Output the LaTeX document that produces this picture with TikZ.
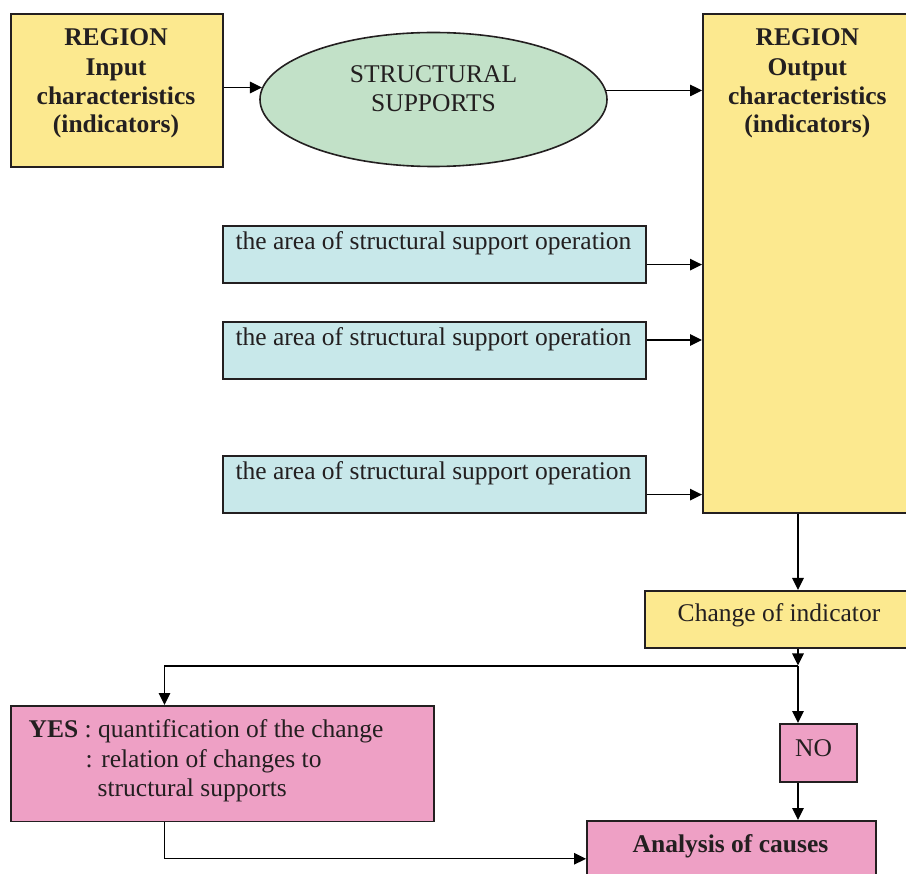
\documentclass[tikz,border=0pt]{standalone}
\usepackage{fontspec}
\setmainfont{Liberation Serif}
\usetikzlibrary{arrows.meta,shapes.geometric}
\definecolor{boxyellow}{HTML}{FCE98F}
\definecolor{boxgreen}{HTML}{C2E1C8}
\definecolor{boxcyan}{HTML}{C8E8EA}
\definecolor{boxpink}{HTML}{EEA0C5}
\definecolor{inkcol}{HTML}{231F20}
\begin{document}
\begin{tikzpicture}[x=1pt,y=-1pt,
  box/.style={draw=inkcol, line width=1.6pt, inner sep=0pt, anchor=north west},
  txt/.style={inner sep=0pt, anchor=base, text=inkcol, font=\fontsize{25.5}{29}\selectfont},
  txtb/.style={txt, font=\fontsize{25.5}{29}\selectfont\bfseries},
  txtl/.style={txt, anchor=base west},
  arr/.style={-{Triangle[length=12pt,width=11.5pt]}, line width=1.3pt, draw=black}]
\useasboundingbox (0,0) rectangle (906,874);
\clip (0,0) rectangle (906,874);

% boxes
\node[box, fill=boxyellow, minimum width=212pt, minimum height=153pt] (inbox) at (10,13) {};
\node[box, fill=boxyellow, minimum width=212pt, minimum height=499pt] (outbox) at (702,13) {};
\node[draw=inkcol, line width=1.6pt, fill=boxgreen, ellipse, inner sep=0pt,
      minimum width=347pt, minimum height=134pt] (ell) at (433.5,99.5) {};
\node[box, fill=boxcyan, minimum width=423pt, minimum height=57.5pt] (blue1) at (222,225) {};
\node[box, fill=boxcyan, minimum width=423pt, minimum height=57.5pt] (blue2) at (222,321) {};
\node[box, fill=boxcyan, minimum width=423pt, minimum height=57.5pt] (blue3) at (222,455) {};
\node[box, fill=boxyellow, minimum width=272pt, minimum height=57pt] (change) at (644,590) {};
\node[box, fill=boxpink, minimum width=77pt, minimum height=58pt] (no) at (779,723) {};
\node[box, fill=boxpink, minimum width=289pt, minimum height=76pt] (analysis) at (586,820) {};
\node[box, fill=boxpink, minimum width=423pt, minimum height=115.5pt] (yes) at (10,705) {};

% texts
\node[txtb] (in1) at (116,46) {REGION};
\node[txtb] (in2) at (116,75.5) {Input};
\node[txtb] (in3) at (116,104.5) {characteristics};
\node[txtb] (in4) at (116,133) {(indicators)};

\node[txtb] (out1) at (807.3,46) {REGION};
\node[txtb] (out2) at (807.3,75.5) {Output};
\node[txtb] (out3) at (807.3,104.5) {characteristics};
\node[txtb] (out4) at (807.3,133) {(indicators)};

\node[txt] (ell1) at (433.5,82.7) {STRUCTURAL};
\node[txt] (ell2) at (433.5,111.7) {SUPPORTS};

\node[txt] (b1t) at (433.5,249.3) {the area of structural support operation};
\node[txt] (b2t) at (433.5,345.5) {the area of structural support operation};
\node[txt] (b3t) at (433.5,480) {the area of structural support operation};

\node[txt] (cht) at (779,621.7) {Change of indicator};
\node[txt] (not) at (813.5,756.7) {NO};
\node[txtb] (ant) at (730.5,852.7) {Analysis of causes};

\node[txtl] (y1) at (28.5,737.7) {\textbf{YES} : quantification of the change};
\node[txtl] (y2) at (85.5,767) {: relation of changes to};
\node[txtl] (y3) at (97.5,796) {structural supports};

% connectors
\coordinate (jx) at (798,666);
\coordinate (yx) at (164.5,858);

\draw[arr] (inbox.east |- ell.176.8) -- (ell.176.8);
\draw[arr] (ell.3.2) -- (outbox.west |- ell.3.2);
\draw[arr] ([yshift=19.5pt]blue1.south east) -- ([yshift=19.5pt]blue1.south east -| outbox.west);
\draw[arr] ([yshift=-19pt]blue2.north east) -- ([yshift=-19pt]blue2.north east -| outbox.west);
\draw[arr] ([yshift=19.5pt]blue3.south east) -- ([yshift=19.5pt]blue3.south east -| outbox.west);
\draw[arr] (outbox.south -| jx) -- (change.north -| jx);
\draw[arr] (change.south -| jx) -- ([yshift=0.5pt]jx);
\draw[arr] (jx) -| (yes.north -| yx);
\draw[arr] (jx) -- (no.north -| jx);
\draw[arr] (no.south -| jx) -- (analysis.north -| jx);
\draw[arr] (yes.south -| yx) |- (analysis.west);
\end{tikzpicture}
\end{document}
